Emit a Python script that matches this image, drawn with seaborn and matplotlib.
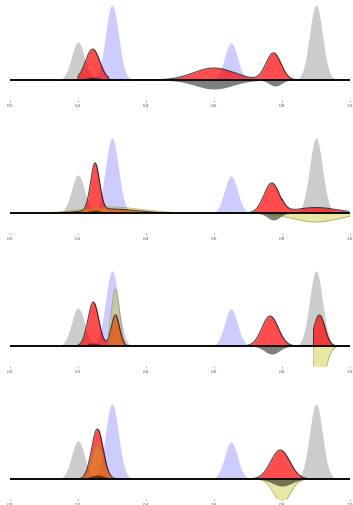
import numpy as np
import pandas as pd
import matplotlib
matplotlib.use("Agg")
import matplotlib.pyplot as plt
import seaborn as sns

sns.set_style("white")

# ---- data: peak components (center, width, height, lower cut, upper cut) ----
x_ticks = [0.0, 0.2, 0.4, 0.6, 0.8, 1.0]
tick_labels = ["0.0", "0.2", "0.4", "0.6", "0.8", "1.0"]

# background references (same in every panel)
bg_gray = [(0.20, 0.019, 38, 0, 1), (0.90, 0.019, 75, 0, 1)]
bg_blue = [(0.30, 0.019, 75, 0, 1), (0.65, 0.019, 37, 0, 1)]

# panel-specific curves: positive above baseline, negative below
red_p1 = [(0.243, 0.021, 31, 0.20, 0.29), (0.60, 0.06, 12, 0, 1), (0.775, 0.022, 27, 0, 1)]
yel_p1 = []
dark_p1 = [(0.243, 0.02, 3, 0.2, 0.29), (0.60, 0.055, -9, 0, 1), (0.78, 0.018, -6, 0, 1)]

red_p2 = [(0.25, 0.013, 47, 0, 1), (0.30, 0.07, 4, 0, 1), (0.77, 0.023, 30, 0, 1),
          (0.90, 0.06, 5.5, 0.80, 0.995)]
yel_p2 = [(0.30, 0.085, 6, 0, 1), (0.90, 0.07, -9, 0.70, 1.0)]
dark_p2 = [(0.25, 0.018, 3, 0, 1), (0.775, 0.018, -7, 0, 1)]

red_p3 = [(0.245, 0.016, 44, 0, 1), (0.31, 0.012, 31, 0, 1), (0.765, 0.024, 30, 0, 1),
          (0.91, 0.016, 31, 0.893, 1)]
yel_p3 = [(0.31, 0.012, 57, 0.29, 1), (0.91, 0.018, -40, 0.893, 1)]
dark_p3 = [(0.245, 0.018, 3, 0, 1), (0.77, 0.022, -8, 0, 1)]

red_p4 = [(0.257, 0.017, 50, 0, 1), (0.795, 0.028, 29, 0, 1)]
yel_p4 = [(0.257, 0.017, 35, 0, 1), (0.80, 0.024, -24, 0, 1)]
dark_p4 = [(0.257, 0.022, 4, 0, 1), (0.80, 0.028, -7, 0, 1)]

panels = [(red_p1, yel_p1, dark_p1), (red_p2, yel_p2, dark_p2),
          (red_p3, yel_p3, dark_p3), (red_p4, yel_p4, dark_p4)]

baseline_px = [80, 213, 346, 479]

xs = np.linspace(0, 1, 2001)


def curve(components):
    y = np.zeros_like(xs)
    for c, s, h, lo, hi in components:
        g = h * np.exp(-0.5 * ((xs - c) / s) ** 2)
        g[(xs < lo) | (xs > hi)] = 0
        y += g
    return y


def split(components):
    pos = [c for c in components if c[2] > 0]
    neg = [c for c in components if c[2] < 0]
    return curve(pos), curve(neg)


W, H = 353, 506
fig = plt.figure(figsize=(W / 100, H / 100), dpi=100)

for i, (red, yel, dark) in enumerate(panels):
    b = baseline_px[i]
    ax = fig.add_axes([10 / W, 1 - (b + 21) / H, 340 / W, 100 / H])
    ax.set_xlim(0, 1)
    ax.set_ylim(-20, 80)

    for comp, col in [(bg_gray, "black"), (bg_blue, "blue")]:
        for c in comp:
            y = curve([c])
            ax.fill_between(xs, 0, y, color=col, alpha=0.2, linewidth=0)

    # red
    rp, rn = split(red)
    for y in (rp, rn):
        if np.any(y != 0):
            ax.fill_between(xs, 0, y, color="red", alpha=0.7, linewidth=0)
            df = pd.DataFrame({"x": xs, "y": y})
            sns.lineplot(data=df, x="x", y="y", ax=ax, color="black",
                         lw=0.8, alpha=0.7)

    # yellow
    for c in yel:
        y = curve([c])
        ax.fill_between(xs, 0, y, color="y", alpha=0.35, linewidth=0)
        df = pd.DataFrame({"x": xs, "y": y})
        sns.lineplot(data=df, x="x", y="y", ax=ax, color="#8a8a30",
                     lw=0.6, alpha=0.6)

    # dark
    for c in dark:
        y = curve([c])
        ax.fill_between(xs, 0, y, color="black", alpha=0.5, linewidth=0)

    ax.axhline(0, color="black", lw=1.3)

    ax.set_xticks(x_ticks)
    ax.set_xticklabels(tick_labels, fontsize=3.0, color="#555555")
    ax.set_yticks([])
    ax.tick_params(axis="x", length=1.2, width=0.4, pad=1.0, color="#777777",
                   direction="out", bottom=True)
    for sp in ax.spines.values():
        sp.set_visible(False)
    ax.set_xlabel("")
    ax.set_ylabel("")
    ax.set_facecolor("none")

fig.savefig("out.png", dpi=100)
